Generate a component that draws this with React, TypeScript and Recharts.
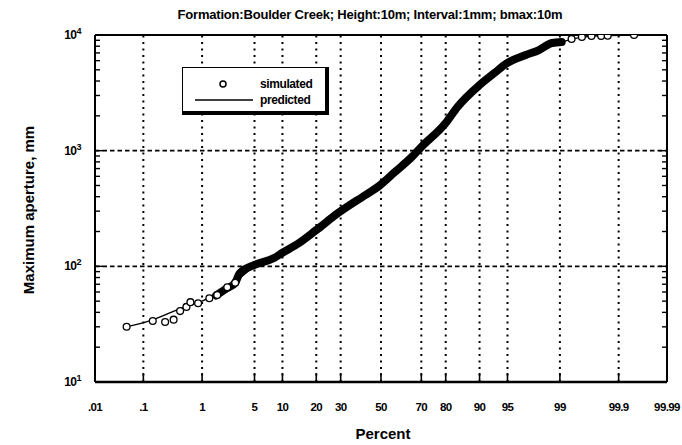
import React from "react";
import { ComposedChart, Line, Scatter, XAxis, YAxis, ReferenceLine } from "recharts";

document.body.style.margin = "0";

// x axis: normal probability scale, labelled in percent
const percentTicks = [0.01, 0.1, 1, 5, 10, 20, 30, 50, 70, 80, 90, 95, 99, 99.9, 99.99];
const percentLabels = [".01", ".1", "1", "5", "10", "20", "30", "50", "70", "80", "90", "95", "99", "99.9", "99.99"];

// y axis: log decades + minor ticks
const apertureDecades = [10, 100, 1000, 10000];
const apertureMinor = [20, 30, 40, 50, 60, 70, 80, 90, 200, 300, 400, 500, 600, 700, 800, 900, 2000, 3000, 4000, 5000, 6000, 7000, 8000, 9000];

// simulated, isolated circles (tails)
const simPercent = [0.047, 0.15, 0.25, 0.35, 0.45, 0.57, 0.66, 0.87, 1.28, 1.66, 2.28, 2.9, 99.34, 99.55, 99.69, 99.79, 99.84, 99.95];
const simAperture = [30, 33.7, 33, 34.6, 41, 44.6, 49, 48, 53, 56.6, 66, 72, 9230, 9610, 9800, 9800, 9850, 10000];

// simulated, dense part (circles overlap into a solid band)
const bandPercent = [1.6, 2.2, 2.9, 3.3, 5, 8.2, 10, 14.3, 20, 29, 42, 49, 57, 65.6, 70, 80, 84, 90, 93, 95, 97, 98, 98.7, 99.06];
const bandAperture = [56, 64, 72, 87, 103, 118, 131, 159, 206, 290, 414, 495, 650, 883, 1077, 1735, 2389, 3698, 4699, 5730, 6715, 7415, 8530, 8700];

// predicted curve
const predPercent = [0.047, 0.15, 0.5, 1, 2, 3, 5, 10, 20, 30, 50, 70, 80, 90, 95, 98, 99, 99.5, 99.8, 99.95];
const predAperture = [30, 34.5, 44, 50, 62, 75, 100, 130, 205, 295, 490, 1080, 1740, 3700, 5700, 7400, 8600, 9500, 9850, 10000];

// inverse normal cdf (Acklam)
function probit(p: number) {
  const a = [-39.69683028665376, 220.9460984245205, -275.9285104469687, 138.357751867269, -30.66479806614716, 2.506628277459239];
  const b = [-54.47609879822406, 161.5858368580409, -155.6989798598866, 66.80131188771972, -13.28068155288572];
  const c = [-0.007784894002430293, -0.3223964580411365, -2.400758277161838, -2.549732539343734, 4.374664141464968, 2.938163982698783];
  const d = [0.007784695709041462, 0.3224671290700398, 2.445134137142996, 3.754408661907416];
  const pl = 0.02425;
  if (p < pl) {
    const q = Math.sqrt(-2 * Math.log(p));
    return (((((c[0] * q + c[1]) * q + c[2]) * q + c[3]) * q + c[4]) * q + c[5]) / ((((d[0] * q + d[1]) * q + d[2]) * q + d[3]) * q + 1);
  }
  if (p <= 1 - pl) {
    const q = p - 0.5;
    const r = q * q;
    return ((((((a[0] * r + a[1]) * r + a[2]) * r + a[3]) * r + a[4]) * r + a[5]) * q) / (((((b[0] * r + b[1]) * r + b[2]) * r + b[3]) * r + b[4]) * r + 1);
  }
  const q = Math.sqrt(-2 * Math.log(1 - p));
  return -(((((c[0] * q + c[1]) * q + c[2]) * q + c[3]) * q + c[4]) * q + c[5]) / ((((d[0] * q + d[1]) * q + d[2]) * q + d[3]) * q + 1);
}

const toZ = (pct: number) => probit(pct / 100);
const pairs = (ps: number[], vs: number[]) => ps.map((p, i) => ({ z: toZ(p), v: vs[i] }));

const simData = pairs(simPercent, simAperture);
const bandData = pairs(bandPercent, bandAperture);
const predData = pairs(predPercent, predAperture);
const tickZ = percentTicks.map(toZ);
const zDomain = [tickZ[0], tickZ[tickZ.length - 1]];
const yTicks = [...apertureDecades, ...apertureMinor].sort((a, b) => a - b);

const labelFor = (z: number) => {
  let best = 0;
  tickZ.forEach((t, i) => {
    if (Math.abs(t - z) < Math.abs(tickZ[best] - z)) best = i;
  });
  return percentLabels[best];
};

const FONT = "'Liberation Sans', Arial, sans-serif";

function BottomTick({ x, y, payload }: any) {
  return (
    <g>
      <line x1={x} y1={y} x2={x} y2={y - 9} stroke="#000" strokeWidth={1.6} />
      <text x={x} y={y + 29} textAnchor="middle" fontFamily={FONT} fontWeight="bold" fontSize={11.5} letterSpacing={-0.6} fill="#000">
        {labelFor(payload.value)}
      </text>
    </g>
  );
}

function TopTick({ x, y }: any) {
  return <line x1={x} y1={y} x2={x} y2={y + 9} stroke="#000" strokeWidth={1.6} />;
}

function LeftTick({ x, y, payload }: any) {
  const v = payload.value;
  const major = apertureDecades.includes(v);
  return (
    <g>
      <line x1={x} y1={y} x2={x + (major ? 8 : 5)} y2={y} stroke="#000" strokeWidth={1.4} />
      {major && (
        <text x={x - 14} y={y + 4} textAnchor="end" fontFamily={FONT} fontWeight="bold" fontSize={12} letterSpacing={-0.5} fill="#000">
          10
          <tspan fontSize={9} dy={-5}>{Math.round(Math.log10(v))}</tspan>
        </text>
      )}
    </g>
  );
}

function RightTick({ x, y, payload }: any) {
  const major = apertureDecades.includes(payload.value);
  return <line x1={x} y1={y} x2={x - (major ? 8 : 5)} y2={y} stroke="#000" strokeWidth={1.4} />;
}

const circle = (props: any) => (
  <circle cx={props.cx} cy={props.cy} r={3.4} fill="#fff" stroke="#000" strokeWidth={1.3} />
);

export default function App() {
  return (
    <div style={{ position: "relative", width: 682, height: 445, background: "#fff" }}>
      <ComposedChart width={682} height={445} margin={{ top: 0, right: 0, bottom: 0, left: 0 }}>
        <XAxis
          type="number"
          dataKey="z"
          domain={zDomain}
          ticks={tickZ}
          interval={0}
          allowDataOverflow
          height={63}
          tickSize={0}
          tickMargin={0}
          tickLine={false}
          tick={<BottomTick />}
          axisLine={{ stroke: "#000", strokeWidth: 2.5 }}
        />
        <XAxis
          xAxisId="top"
          orientation="top"
          type="number"
          domain={zDomain}
          ticks={tickZ}
          interval={0}
          allowDataOverflow
          height={35}
          tickSize={0}
          tickMargin={0}
          tickLine={false}
          tick={<TopTick />}
          axisLine={{ stroke: "#000", strokeWidth: 1.8 }}
        />
        <YAxis
          type="number"
          dataKey="v"
          scale="log"
          domain={[10, 10000]}
          ticks={yTicks}
          interval={0}
          allowDataOverflow
          width={95}
          tickSize={0}
          tickMargin={0}
          tickLine={false}
          tick={<LeftTick />}
          axisLine={{ stroke: "#000", strokeWidth: 2 }}
        />
        <YAxis
          yAxisId="right"
          orientation="right"
          type="number"
          scale="log"
          domain={[10, 10000]}
          ticks={yTicks}
          interval={0}
          allowDataOverflow
          width={15}
          tickSize={0}
          tickMargin={0}
          tickLine={false}
          tick={<RightTick />}
          axisLine={{ stroke: "#000", strokeWidth: 2 }}
        />
        {tickZ.slice(1, -1).map((z, i) => (
          <ReferenceLine key={"v" + i} x={z} stroke="#000" strokeWidth={2} strokeDasharray="2 4.5" />
        ))}
        {[100, 1000].map((v) => (
          <ReferenceLine key={"h" + v} y={v} stroke="#000" strokeWidth={1.8} strokeDasharray="4.5 3" />
        ))}
        <Line data={predData} dataKey="v" type="monotone" stroke="#000" strokeWidth={1.4} dot={false} isAnimationActive={false} />
        <Line data={bandData} dataKey="v" type="monotone" stroke="#000" strokeWidth={8} strokeLinecap="round" dot={false} isAnimationActive={false} />
        <Scatter data={simData} dataKey="v" shape={circle} isAnimationActive={false} />
      </ComposedChart>

      <svg width={682} height={445} style={{ position: "absolute", left: 0, top: 0, pointerEvents: "none" }}>
        <text x={370} y={19} textAnchor="middle" fontFamily={FONT} fontWeight="bold" fontSize={13} letterSpacing={-0.2} fill="#000">
          Formation:Boulder Creek; Height:10m; Interval:1mm; bmax:10m
        </text>
        <text x={383} y={439} textAnchor="middle" fontFamily={FONT} fontWeight="bold" fontSize={15} fill="#000">
          Percent
        </text>
        <text transform="translate(34,210) rotate(-90)" textAnchor="middle" fontFamily={FONT} fontWeight="bold" fontSize={15} fill="#000">
          Maximum aperture, mm
        </text>
      </svg>

      <div
        style={{
          position: "absolute",
          left: 182,
          top: 67,
          width: 142,
          height: 43,
          background: "#fff",
          border: "1.5px solid #000",
          borderRightWidth: 4,
          borderBottomWidth: 4,
        }}
      >
        <svg width={142} height={43} style={{ position: "absolute", left: 0, top: 0 }}>
          <circle cx={40} cy={16} r={3} fill="#fff" stroke="#000" strokeWidth={1.5} />
          <line x1={12} y1={32} x2={70} y2={32} stroke="#000" strokeWidth={1.4} />
          <text x={77} y={20} fontFamily={FONT} fontWeight="bold" fontSize={12} letterSpacing={-0.4}>simulated</text>
          <text x={77} y={36} fontFamily={FONT} fontWeight="bold" fontSize={12} letterSpacing={-0.4}>predicted</text>
        </svg>
      </div>
    </div>
  );
}
